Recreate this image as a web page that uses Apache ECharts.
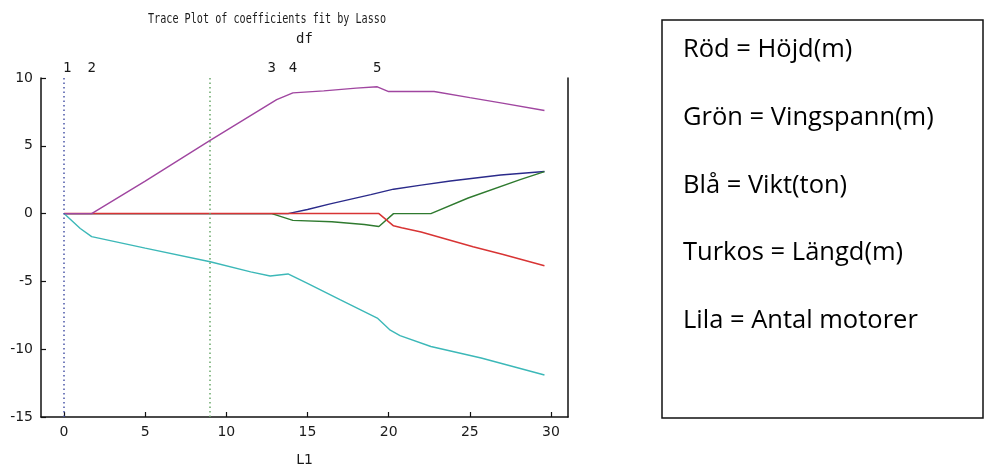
<!DOCTYPE html>
<html>
<head>
<meta charset="utf-8">
<script src="https://cdn.jsdelivr.net/npm/echarts@6/dist/echarts.min.js"></script>
<style>
html,body{margin:0;padding:0;background:#fff;}
#chart{width:985px;height:472px;}
</style>
</head>
<body>
<div id="chart"></div>
<script>
// ---- data ----
var titleText = 'Trace Plot of coefficients fit by Lasso';
var xTicks = [0, 5, 10, 15, 20, 25, 30];
var yTicks = [-15, -10, -5, 0, 5, 10];
var dfX = [0.2, 1.7, 12.8, 14.1, 19.3];
var dfLabels = ['1', '2', '3', '4', '5'];
var vlineX = [0, 8.95];

var blueX  = [0, 13.8, 15, 16.4, 18.9, 20.3, 22, 23.8, 26.9, 29.6];
var blueY  = [0, 0, 0.3, 0.72, 1.4, 1.8, 2.1, 2.4, 2.85, 3.1];

var greenX = [0, 12.8, 14.1, 16.5, 18.5, 19.4, 20.3, 22.6, 24.9, 28.1, 29.6];
var greenY = [0, 0, -0.5, -0.6, -0.8, -0.95, 0, 0, 1.15, 2.5, 3.1];

var redX   = [0, 19.4, 20.3, 20.8, 22, 25.2, 27, 29.6];
var redY   = [0, 0, -0.9, -1.05, -1.35, -2.45, -3.0, -3.85];

var cyanX  = [0, 1.0, 1.7, 5, 9, 11.5, 12.7, 13.8, 15, 17, 19.3, 20.1, 20.7, 22.6, 25.7, 29.6];
var cyanY  = [0, -1.1, -1.7, -2.55, -3.55, -4.3, -4.6, -4.45, -5.15, -6.35, -7.7, -8.6, -9.0, -9.8, -10.65, -11.9];

var purpleX = [0, 1.7, 5, 9, 13.1, 14.1, 16, 18, 19.3, 20.0, 22.8, 25, 27, 29.6];
var purpleY = [0, 0, 2.4, 5.4, 8.4, 8.9, 9.05, 9.25, 9.35, 9.0, 9.0, 8.55, 8.15, 7.6];

var legendLines = ['Röd = Höjd(m)', 'Grön = Vingspann(m)', 'Blå = Vikt(ton)', 'Turkos = Längd(m)', 'Lila = Antal motorer'];

// ---- chart ----
function pairs(xs, ys) { return xs.map(function (x, i) { return [x, ys[i]]; }); }

var tickFont = 'DejaVu Sans';
var monoFont = 'DejaVu Sans Mono';
var textCol = '#1a1a1a';

function vline(x, color) {
  return {
    silent: true, symbol: ['none', 'none'], animation: false,
    label: { show: false },
    emphasis: { disabled: true },
    lineStyle: { color: color, type: [1.5, 3], width: 1.5, opacity: 1 },
    data: [{ xAxis: x }]
  };
}

function lineSeries(name, xs, ys, color, width, extra) {
  var s = {
    name: name, type: 'line', data: pairs(xs, ys),
    showSymbol: false, symbol: 'none', animation: false,
    lineStyle: { color: color, width: width },
    itemStyle: { color: color },
    xAxisIndex: 0, yAxisIndex: 0
  };
  if (extra) for (var k in extra) s[k] = extra[k];
  return s;
}

var chart = echarts.init(document.getElementById('chart'), null, { renderer: 'canvas' });

var legendGraphics = [{
  type: 'rect', shape: { x: 662, y: 20, width: 321, height: 398 },
  style: { fill: 'none', stroke: '#111', lineWidth: 1.5 }
}];
legendLines.forEach(function (t, i) {
  legendGraphics.push({
    type: 'text', x: 683, y: 50 + i * 67.7,
    style: { text: t, font: '25.5px "Open Sans"', fill: '#000', verticalAlign: 'middle', align: 'left' }
  });
});

var option = {
  backgroundColor: '#fff',
  animation: false,
  grid: { left: 41, right: 417, top: 78, bottom: 47, containLabel: false },
  xAxis: [{
    type: 'value', min: -1.42, max: 31.05, position: 'bottom',
    name: 'L1', nameLocation: 'middle', nameGap: 36,
    nameTextStyle: { fontFamily: tickFont, fontSize: 14, color: textCol },
    axisLine: { show: true, onZero: false, lineStyle: { color: '#111', width: 1.5 } },
    axisTick: { show: true, inside: true, length: 5, customValues: xTicks, lineStyle: { color: '#111', width: 1.2 } },
    axisLabel: { customValues: xTicks, fontFamily: tickFont, fontSize: 14, color: textCol, margin: 8 },
    splitLine: { show: false }
  }, {
    type: 'value', min: -1.42, max: 31.05, position: 'top',
    name: 'df', nameLocation: 'middle', nameGap: 32,
    nameTextStyle: { fontFamily: monoFont, fontSize: 14, color: textCol },
    axisLine: { show: false },
    axisTick: { show: false },
    axisLabel: {
      customValues: dfX, fontFamily: monoFont, fontSize: 14, color: textCol, margin: 3,
      formatter: function (v) {
        for (var i = 0; i < dfX.length; i++) if (Math.abs(dfX[i] - v) < 1e-6) return dfLabels[i];
        return '';
      }
    },
    splitLine: { show: false }
  }],
  yAxis: [{
    type: 'value', min: -15, max: 10, interval: 5, position: 'left',
    axisLine: { show: true, onZero: false, lineStyle: { color: '#111', width: 1.5 } },
    axisTick: { show: true, inside: true, length: 5, lineStyle: { color: '#111', width: 1.2 } },
    axisLabel: { fontFamily: tickFont, fontSize: 14, color: textCol, margin: 8 },
    splitLine: { show: false }
  }, {
    type: 'value', min: -15, max: 10, interval: 5, position: 'right',
    axisLine: { show: true, onZero: false, lineStyle: { color: '#111', width: 1.5 } },
    axisTick: { show: false }, axisLabel: { show: false }, splitLine: { show: false }
  }],
  graphic: [{
    type: 'text', x: 148, y: 19, scaleX: 0.724, originX: 0,
    style: { text: titleText, font: '14px "DejaVu Sans Mono"', fill: textCol, verticalAlign: 'middle', align: 'left' }
  }].concat(legendGraphics),
  series: [
    lineSeries('Blå', blueX, blueY, '#2a2a8a', 1.4, { markLine: vline(vlineX[0], '#4a55a8') }),
    lineSeries('Grön', greenX, greenY, '#2f7a2f', 1.4, { markLine: vline(vlineX[1], '#6aa86a') }),
    lineSeries('Röd', redX, redY, '#d83434', 1.5),
    lineSeries('Turkos', cyanX, cyanY, '#3cb8b8', 1.4),
    lineSeries('Lila', purpleX, purpleY, '#a046a0', 1.4)
  ]
};
chart.setOption(option);
</script>
</body>
</html>
